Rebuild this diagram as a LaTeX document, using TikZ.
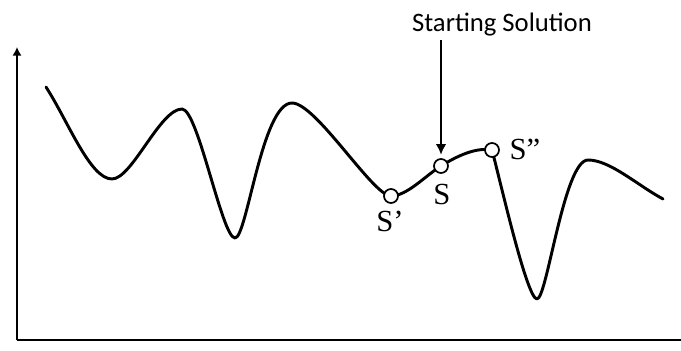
\documentclass[tikz,border=0pt]{standalone}
\usepackage{fontspec}
\newfontfamily\calfont{Carlito}
\newfontfamily\timesfont{Liberation Serif}
\usetikzlibrary{arrows.meta}
\tikzset{
  axisline/.style={line width=2.2pt, -{Latex[length=6.5pt,width=7pt]}},
  curveline/.style={line width=2.2pt, line join=round, line cap=round},
  solpoint/.style={circle, draw=black, fill=white, line width=1.3pt, minimum size=10.5pt, inner sep=0pt},
  slabel/.style={font=\timesfont\fontsize{23}{26}\selectfont, inner sep=0pt},
  toplabel/.style={font=\calfont\fontsize{20}{24}\selectfont, inner sep=1pt},
  pointer/.style={line width=1.9pt, -{Latex[length=8pt,width=8pt]}, shorten >=2.5pt}
}
\begin{document}
\begin{tikzpicture}[x=0.75pt,y=0.75pt]
\useasboundingbox (0,0) rectangle (681,350);
% axes
\coordinate (o) at (17,10);
\coordinate (ytop) at (17,303);
\coordinate (xend) at (681,10);
\draw[line width=2.2pt] (xend) -- (o);
\draw[axisline] (o) -- (ytop);
% key points of the landscape
\coordinate (c0) at (46,263);
\coordinate (m1) at (112,171);
\coordinate (M1) at (182,241);
\coordinate (m2) at (235,112);
\coordinate (M2) at (292,247);
\coordinate (p1) at (391,154);
\coordinate (p2) at (441,184);
\coordinate (p3) at (492,200);
\coordinate (m3) at (537,51);
\coordinate (M3) at (588,190);
\coordinate (c1) at (663,151);
\draw[curveline] (c0)
  .. controls +(22,-34) and +(-22,0) .. (m1)
  .. controls +(20,0) and +(-22,0) .. (M1)
  .. controls +(16,0) and +(-13,0) .. (m2)
  .. controls +(12,0) and +(-30,0) .. (M2)
  .. controls +(24,0) and +(-18,0) .. (p1)
  .. controls +(16,0) and +(-16,-10) .. (p2)
  .. controls +(16,10) and +(-16,3) .. (p3)
  .. controls +(9,-34) and +(-10,0) .. (m3)
  .. controls +(10,0) and +(-24,0) .. (M3)
  .. controls +(22,0) and +(-26,14) .. (c1);
% solution points
\node[solpoint] (s1) at (p1) {};
\node[solpoint] (s) at (p2) {};
\node[solpoint] (s2) at (p3) {};
\node[slabel] (l1) at (390,129) {S’};
\node[slabel] (l) at (442,156) {S};
\node[slabel] (l2) at (525,201) {S”};
% starting solution
\node[toplabel] (start) at (502,325) {Starting Solution};
\coordinate (arrstart) at (441,310);
\draw[pointer] (arrstart) -- (s.north);
\end{tikzpicture}
\end{document}
